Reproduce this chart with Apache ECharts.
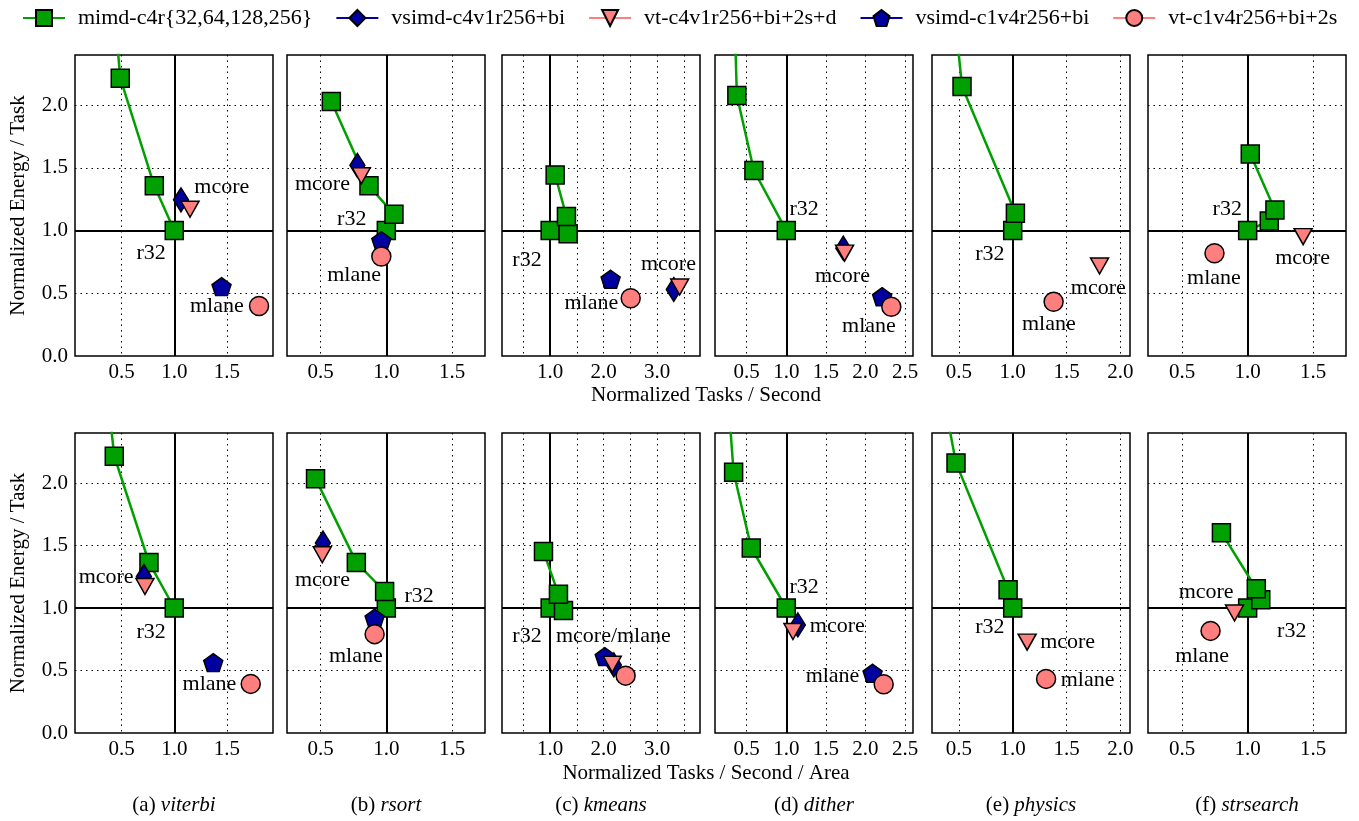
<!DOCTYPE html>
<html>
<head>
<meta charset="utf-8">
<title>Normalized energy vs performance</title>
<script src="https://cdn.jsdelivr.net/npm/echarts@6.0.0/dist/echarts.min.js"></script>
<style>
  html, body { margin: 0; padding: 0; background: #fff; }
  #chart { width: 1359px; height: 821px; }
</style>
</head>
<body>
<div id="chart"></div>
<script>
var benchmarks = ['viterbi', 'rsort', 'kmeans', 'dither', 'physics', 'strsearch']
var captionTags = ['(a)', '(b)', '(c)', '(d)', '(e)', '(f)']
var rowTitles = ['Normalized Tasks / Second', 'Normalized Tasks / Second / Area']
var yTitle = 'Normalized Energy / Task'

// x range per benchmark column (same for both rows)
var xMin = [0.055, 0.245, 0.1, 0.1, 0.25, 0.24]
var xMax = [1.94, 1.75, 3.8, 2.6, 2.09, 1.75]
var xLabels = [
  [0.5, 1, 1.5],
  [0.5, 1, 1.5],
  [1, 2, 3],
  [0.5, 1, 1.5, 2, 2.5],
  [0.5, 1, 1.5, 2],
  [0.5, 1, 1.5]
]
var xGrid = [
  [0.5, 1, 1.5],
  [0.5, 1, 1.5],
  [0.5, 1, 1.5, 2, 2.5, 3, 3.5],
  [0.5, 1, 1.5, 2, 2.5],
  [0.5, 1, 1.5, 2],
  [0.5, 1, 1.5]
]
var yLabels = [0, 0.5, 1, 1.5, 2]
var yGrid = [0.5, 1, 1.5, 2]

// mimd-c4r points, order r32, r64, r128, r256 (last one may sit above the plot)
var mimdTop = [
  [[1, 1], [0.81, 1.357], [0.486, 2.215], [0.40, 3.05]],
  [[1, 1], [1.058, 1.131], [0.868, 1.357], [0.582, 2.03]],
  [[1, 1], [1.336, 0.974], [1.304, 1.112], [1.093, 1.444]],
  [[1, 1], [0.591, 1.479], [0.376, 2.077], [0.31, 3.5]],
  [[1, 1], [1.025, 1.139], [0.529, 2.149], [0.44, 2.9]],
  [[1, 1], [1.165, 1.077], [1.208, 1.165], [1.02, 1.61]]
]
var mimdBottom = [
  [[1, 1], [0.759, 1.365], [0.429, 2.214], [0.32, 3.05]],
  [[1, 1], [0.987, 1.132], [0.772, 1.365], [0.462, 2.035]],
  [[1, 1], [1.249, 0.98], [1.155, 1.111], [0.875, 1.453]],
  [[1, 1], [0.558, 1.48], [0.335, 2.086], [0.17, 3.5]],
  [[1, 1], [0.957, 1.146], [0.473, 2.161], [0.31, 2.9]],
  [[1, 1], [1.10, 1.066], [1.066, 1.154], [0.80, 1.603]]
]

// single points, null = not measured
var vsimdC4Top = [[1.064, 1.245], [0.78, 1.52], [3.31, 0.53], [1.72, 0.86], null, null]
var vsimdC4Bottom = [[0.711, 1.252], [0.518, 1.52], [2.19, 0.545], [1.146, 0.865], null, null]
var vtC4Top = [[1.15, 1.17], [0.81, 1.437], [3.42, 0.55], [1.736, 0.82], [1.807, 0.718], [1.423, 0.952]]
var vtC4Bottom = [[0.721, 1.172], [0.513, 1.426], [2.16, 0.55], [1.084, 0.812], [1.134, 0.727], [0.90, 0.96]]
var vsimdC1Top = [[1.45, 0.553], [0.962, 0.92], [2.13, 0.612], [2.21, 0.473], null, null]
var vsimdC1Bottom = [[1.371, 0.563], [0.911, 0.919], [2.02, 0.611], [2.09, 0.478], null, null]
var vtC1Top = [[1.807, 0.399], [0.962, 0.793], [2.505, 0.46], [2.326, 0.393], [1.38, 0.433], [0.747, 0.819]]
var vtC1Bottom = [[1.728, 0.393], [0.911, 0.791], [2.41, 0.459], [2.23, 0.39], [1.31, 0.433], [0.717, 0.817]]

// text annotations [text, x, y]
var notesTop = [
  [['mcore', 1.457, 1.338], ['r32', 0.785, 0.814], ['mlane', 1.41, 0.393]],
  [['mcore', 0.518, 1.365], ['r32', 0.741, 1.085], ['mlane', 0.759, 0.638]],
  [['mcore', 3.22, 0.726], ['r32', 0.577, 0.761], ['mlane', 1.778, 0.415]],
  [['r32', 1.231, 1.165], ['mcore', 1.715, 0.633], ['mlane', 2.05, 0.234]],
  [['r32', 0.793, 0.806], ['mcore', 1.8, 0.54], ['mlane', 1.34, 0.247]],
  [['r32', 0.848, 1.165], ['mcore', 1.423, 0.772], ['mlane', 0.747, 0.62]]
]
var notesBottom = [
  [['mcore', 0.356, 1.24], ['r32', 0.785, 0.799], ['mlane', 1.34, 0.39]],
  [['mcore', 0.518, 1.218], ['r32', 1.253, 1.092], ['mlane', 0.772, 0.611]],
  [['r32', 0.577, 0.772], ['mcore/mlane', 2.19, 0.772]],
  [['r32', 1.231, 1.16], ['mcore', 1.65, 0.852], ['mlane', 1.59, 0.451]],
  [['r32', 0.793, 0.839], ['mcore', 1.515, 0.719], ['mlane', 1.70, 0.417]],
  [['mcore', 0.687, 1.12], ['r32', 1.34, 0.81], ['mlane', 0.656, 0.609]]
]

var font = "'Liberation Serif', 'DejaVu Serif', serif"
var green = '#00a000'
var navy = '#0000a0'
var salmon = '#ff7f7f'

var NAME_MIMD = 'mimd-c4r{32,64,128,256}'
var NAME_VSIMD4 = 'vsimd-c4v1r256+bi'
var NAME_VT4 = 'vt-c4v1r256+bi+2s+d'
var NAME_VSIMD1 = 'vsimd-c1v4r256+bi'
var NAME_VT1 = 'vt-c1v4r256+bi+2s'

var pentagon = 'path://M0,-1 L0.951,-0.309 L0.588,0.809 L-0.588,0.809 L-0.951,-0.309 Z'
var downTriangle = 'path://M0,0 L2,0 L1,1.8 Z'

// drawn in this order so salmon marks sit over navy ones
var configs = [
  { name: NAME_VSIMD4, rows: [vsimdC4Top, vsimdC4Bottom], symbol: 'diamond', size: [15, 24], color: navy },
  { name: NAME_VSIMD1, rows: [vsimdC1Top, vsimdC1Bottom], symbol: pentagon, size: [19, 18], color: navy },
  { name: NAME_VT4, rows: [vtC4Top, vtC4Bottom], symbol: downTriangle, size: [18, 16], color: salmon },
  { name: NAME_VT1, rows: [vtC1Top, vtC1Bottom], symbol: 'circle', size: 19, color: salmon }
]

var gridLefts = [75, 287, 502, 715, 932, 1148]
var gridTops = [55, 433]
var gridHeights = [301, 300]
var gridWidth = 198

var dotted = { type: [1.5, 4], color: '#000', width: 1 }
var fmt = function (v) { return Number(v).toFixed(1) }

var grids = []
var xAxes = []
var yAxes = []
var series = []
var titles = []

for (var row = 0; row < 2; row++) {
  var mimd = row === 0 ? mimdTop : mimdBottom
  var notes = row === 0 ? notesTop : notesBottom
  for (var c = 0; c < benchmarks.length; c++) {
    var g = row * 6 + c
    grids.push({
      left: gridLefts[c],
      top: gridTops[row],
      width: gridWidth,
      height: gridHeights[row],
      show: true,
      backgroundColor: '#fff',
      borderColor: '#000',
      borderWidth: 1.5
    })
    xAxes.push({
      gridIndex: g,
      type: 'value',
      min: xMin[c],
      max: xMax[c],
      axisLine: { show: false },
      axisTick: { show: false, customValues: xGrid[c] },
      axisLabel: {
        customValues: xLabels[c],
        formatter: fmt,
        color: '#000',
        fontSize: 21,
        fontFamily: font,
        margin: 6
      },
      splitLine: { show: true, lineStyle: dotted }
    })
    yAxes.push({
      gridIndex: g,
      type: 'value',
      min: 0,
      max: 2.4,
      name: c === 0 ? yTitle : '',
      nameLocation: 'middle',
      nameGap: 46,
      nameTextStyle: { color: '#000', fontSize: 21, fontFamily: font },
      axisLine: { show: false },
      axisTick: { show: false, customValues: yGrid },
      axisLabel: {
        show: c === 0,
        customValues: yLabels,
        formatter: fmt,
        color: '#000',
        fontSize: 21,
        fontFamily: font,
        margin: 7
      },
      splitLine: { show: true, lineStyle: dotted }
    })

    series.push({
      name: NAME_MIMD,
      type: 'line',
      xAxisIndex: g,
      yAxisIndex: g,
      data: mimd[c],
      clip: true,
      z: 3,
      symbol: 'rect',
      symbolSize: 18,
      lineStyle: { color: green, width: 2.5 },
      itemStyle: { color: green, borderColor: '#000', borderWidth: 1.5 },
      markLine: {
        silent: true,
        symbol: 'none',
        z: 1,
        label: { show: false },
        lineStyle: { color: '#000', width: 2, type: 'solid' },
        data: [{ xAxis: 1 }, { yAxis: 1 }]
      }
    })

    configs.forEach(function (cfg) {
      var pt = cfg.rows[row][c]
      if (!pt) return
      series.push({
        name: cfg.name,
        type: 'line',
        xAxisIndex: g,
        yAxisIndex: g,
        data: [pt],
        z: 4,
        symbol: cfg.symbol,
        symbolSize: cfg.size,
        lineStyle: { color: cfg.color, width: 2.5 },
        itemStyle: { color: cfg.color, borderColor: '#000', borderWidth: 1.5 }
      })
    })

    series.push({
      type: 'scatter',
      xAxisIndex: g,
      yAxisIndex: g,
      silent: true,
      z: 6,
      symbolSize: 1,
      itemStyle: { color: 'rgba(0,0,0,0)' },
      label: {
        show: true,
        position: [0, 0],
        align: 'center',
        verticalAlign: 'middle',
        color: '#000',
        opacity: 1,
        textBorderWidth: 0,
        fontSize: 22,
        fontFamily: font
      },
      data: notes[c].map(function (n) {
        return { value: [n[1], n[2]], label: { formatter: n[0] } }
      })
    })

    if (row === 1) {
      titles.push({
        text: captionTags[c] + ' {i|' + benchmarks[c] + '}',
        left: gridLefts[c] + gridWidth / 2,
        top: 795,
        padding: 0,
        textAlign: 'center',
        textStyle: {
          color: '#000',
          fontSize: 21,
          fontWeight: 'normal',
          fontFamily: font,
          rich: { i: { fontStyle: 'italic', fontSize: 21, fontFamily: font, color: '#000' } }
        }
      })
    }
  }
}

titles.push({
  text: rowTitles[0], left: 706, top: 385, padding: 0, textAlign: 'center',
  textStyle: { color: '#000', fontSize: 21, fontWeight: 'normal', fontFamily: font }
})
titles.push({
  text: rowTitles[1], left: 706, top: 763, padding: 0, textAlign: 'center',
  textStyle: { color: '#000', fontSize: 21, fontWeight: 'normal', fontFamily: font }
})

var chart = echarts.init(document.getElementById('chart'))
chart.setOption({
  animation: false,
  backgroundColor: '#fff',
  textStyle: { fontFamily: font },
  title: titles,
  legend: {
    data: [NAME_MIMD, NAME_VSIMD4, NAME_VT4, NAME_VSIMD1, NAME_VT1],
    top: 7,
    left: 22,
    padding: 0,
    itemWidth: 42,
    itemHeight: 20,
    itemGap: 23,
    textStyle: { color: '#000', fontSize: 22, fontFamily: font, padding: [0, 0, 0, 8] }
  },
  grid: grids,
  xAxis: xAxes,
  yAxis: yAxes,
  series: series
})
</script>
</body>
</html>
